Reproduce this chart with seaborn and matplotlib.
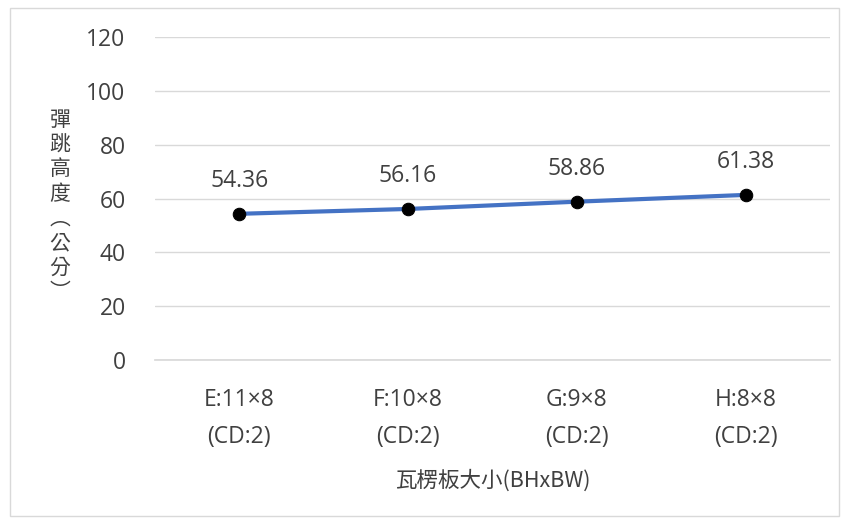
"""
Bounce height vs corrugated board size - line chart with value labels
Output: out.png
"""

import matplotlib.pyplot as plt
import seaborn as sns
from matplotlib.patches import Rectangle

sns.set_theme(style='white')
plt.rcParams['font.family'] = ['Open Sans', 'Noto Sans CJK TC', 'DejaVu Sans']

# data
sizes = ['E:11×8\n(CD:2)', 'F:10×8\n(CD:2)', 'G:9×8\n(CD:2)', 'H:8×8\n(CD:2)']
heights = [54.36, 56.16, 58.86, 61.38]
y_ticks = [0, 20, 40, 60, 80, 100, 120]

LINE_BLUE = '#4472C4'
GRID_GRAY = '#D9D9D9'
TEXT_GRAY = '#404040'

fig = plt.figure(figsize=(8.46, 5.22), dpi=100)
ax = fig.add_axes([0.183, 0.31, 0.798, 0.619])

sns.lineplot(x=sizes, y=heights, ax=ax, color=LINE_BLUE, linewidth=3,
             marker='o', markersize=9, markerfacecolor='black',
             markeredgecolor='black', sort=False)

# value labels
for i, v in enumerate(heights):
    ax.text(i, v + 12.3, f'{v:.2f}', ha='center', va='center',
            fontsize=16.5, color=TEXT_GRAY)

ax.set_ylim(0, 120)
ax.set_xlim(-0.5, 3.5)
ax.set_yticks(y_ticks)
ax.yaxis.grid(True, color=GRID_GRAY, linewidth=1)
ax.set_axisbelow(True)
for side in ['top', 'right', 'left']:
    ax.spines[side].set_visible(False)
ax.spines['bottom'].set_color(GRID_GRAY)
ax.tick_params(axis='y', labelsize=16.5, colors=TEXT_GRAY, length=0, pad=21)
ax.tick_params(axis='x', labelsize=16.5, colors=TEXT_GRAY, length=0, pad=20)
for lbl in ax.get_xticklabels():
    lbl.set_linespacing(1.7)

ax.set_xlabel('瓦楞板大小(BHxBW)', fontsize=15.5, color=TEXT_GRAY, labelpad=15,
              family=['Noto Sans CJK TC', 'DejaVu Sans'])
ax.set_ylabel('')

# vertical y label (stacked characters)
ylab = '\n'.join(['彈', '跳', '高', '度', '︵', '公', '分', '︶'])
fig.text(0.071, 0.605, ylab, ha='center', va='center', fontsize=15,
         color=TEXT_GRAY, linespacing=1.15,
         family=['Noto Sans CJK TC', 'DejaVu Sans'])

# chart frame
fig.patches.append(Rectangle((0.012, 0.012), 0.98, 0.972, transform=fig.transFigure,
                             fill=False, edgecolor=GRID_GRAY, linewidth=1))

fig.savefig('out.png', dpi=100)
plt.close(fig)
